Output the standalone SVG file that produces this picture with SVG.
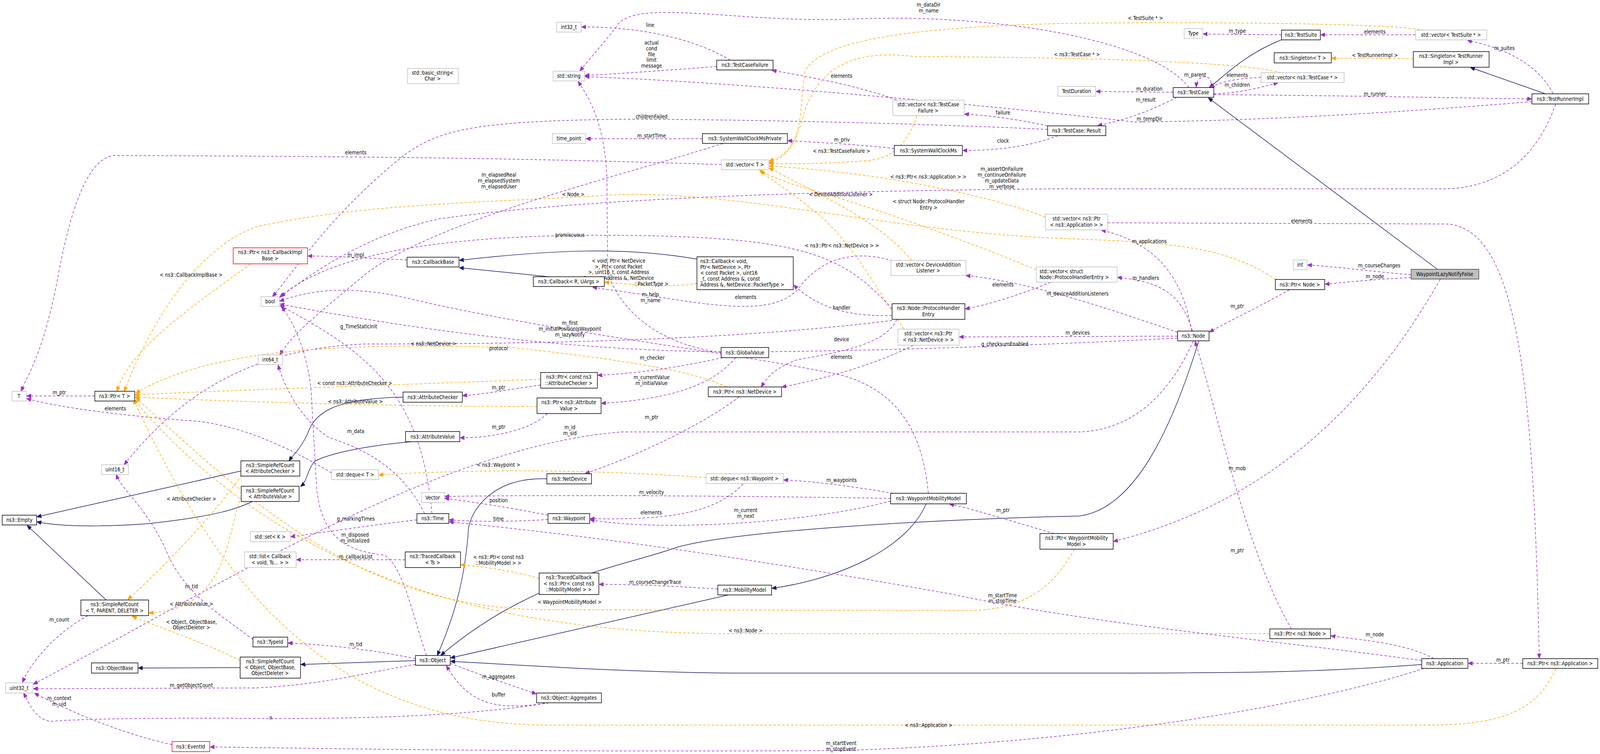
<svg xmlns="http://www.w3.org/2000/svg" width="4371" height="1929" viewBox="0 0 4371 1929" preserveAspectRatio="none">
<style>
:root{width:100vw;height:100vh}
text{font-family:"DejaVu Sans","Liberation Sans",sans-serif;font-stretch:condensed;font-size:14px;fill:#000}
.c{text-anchor:middle}
rect{fill:#fff;stroke-width:1.5}
.b{stroke:#000}
.g{stroke:#bfbfbf}
.r{stroke:#ff0000}
.s{fill:#bfbfbf;stroke:#404040}
path{fill:none;stroke-width:1.5}
.p{stroke:#9a32cd;stroke-dasharray:7,5;marker-end:url(#ap)}
.o{stroke:#ffa500;stroke-dasharray:7,5;marker-end:url(#ao)}
.n{stroke:#191970;marker-end:url(#an)}
</style>
<defs>
<marker id="ap" markerWidth="12" markerHeight="10" refX="11" refY="5" orient="auto" markerUnits="userSpaceOnUse"><path d="M0,0 L12,5 L0,10 Z" style="fill:#9a32cd;stroke:#9a32cd"/></marker>
<marker id="ao" markerWidth="12" markerHeight="10" refX="11" refY="5" orient="auto" markerUnits="userSpaceOnUse"><path d="M0,0 L12,5 L0,10 Z" style="fill:#ffa500;stroke:#ffa500"/></marker>
<marker id="an" markerWidth="12" markerHeight="10" refX="11" refY="5" orient="auto" markerUnits="userSpaceOnUse"><path d="M0,0 L12,5 L0,10 Z" style="fill:#191970;stroke:#191970"/></marker>
</defs>
<rect x="0" y="0" width="4371" height="1929" style="fill:#fff;stroke:none"/>
<g id="edges">
<path class="p" d="M1995,154 C1900,100 1750,68 1590,69"/>
<path class="p" d="M1958,170 C1850,178 1700,188 1599,193"/>
<path class="p" d="M3248,224 C3150,100 2700,30 2300,50 C2000,55 1750,0 1690,60 C1660,100 1610,150 1585,181"/>
<path class="p" d="M4185,260 C3800,290 3400,310 3100,312 C2600,260 2000,210 1599,196"/>
<path class="p" d="M3501,89 L3288,87"/>
<path class="p" d="M3867,89 L3609,89"/>
<path class="p" d="M4243,240 C4200,160 4100,120 4010,104"/>
<path class="o" d="M3861,150 L3639,149"/>
<path class="n" d="M4222,240 L4018,173"/>
<path class="n" d="M3500,102 C3400,140 3350,190 3305,223"/>
<path class="n" d="M3927,689 L3302,251"/>
<path class="p" d="M3445,198 C3380,200 3330,210 3307,224"/>
<path class="p" d="M3316,240 C3380,238 3430,228 3490,212"/>
<path class="p" d="M3306,224 C3320,190 3270,185 3268,222"/>
<path class="p" d="M3205,236 L2995,234"/>
<path class="p" d="M3215,249 C3130,290 3060,310 3000,321"/>
<path class="p" d="M3316,242 C3700,245 3950,250 4183,253"/>
<path class="p" d="M2862,322 C2780,305 2700,295 2636,292"/>
<path class="p" d="M2890,347 C2800,380 2700,385 2631,385"/>
<path class="p" d="M2862,331 C2500,315 2000,305 1700,305 C1300,310 1200,330 1100,400 C900,550 800,700 745,758"/>
<path class="p" d="M2450,256 C2350,220 2200,195 2110,180"/>
<path class="o" d="M2505,296 C2480,360 2450,400 2380,410 C2250,420 2150,420 2102,418"/>
<path class="p" d="M2443,380 C2350,370 2250,365 2153,360"/>
<path class="p" d="M1919,355 L1602,355"/>
<path class="p" d="M1975,367 C1700,450 1200,560 1000,700 C900,780 800,850 765,907"/>
<path class="p" d="M1971,421 C1600,410 1200,400 310,398 C250,405 200,500 160,700 C120,900 80,950 58,1000"/>
<path class="p" d="M4250,266 C4200,400 4100,480 3950,483 L2900,483 C2000,490 1500,520 1200,560 C1000,600 850,700 768,758"/>
<path class="o" d="M3890,77 C3800,60 3300,55 2900,60 C2500,70 2250,100 2200,180 C2180,300 2200,380 2102,412"/>
<path class="o" d="M3500,186 C3400,160 3000,146 2500,145 C2300,120 2230,200 2200,280 C2170,380 2150,400 2102,416"/>
<path class="o" d="M2856,555 C2700,500 2400,440 2102,425"/>
<path class="o" d="M2490,666 C2400,560 2200,480 2102,430"/>
<path class="o" d="M2830,690 C2600,600 2350,520 2160,470 C2120,455 2090,445 2075,436"/>
<path class="o" d="M2470,842 C2400,750 2350,650 2250,560 C2150,480 2100,460 2080,436"/>
<path class="p" d="M3026,570 L3950,573 C4150,580 4190,1000 4205,1683"/>
<path class="p" d="M3255,847 C3230,700 3150,620 3010,589"/>
<path class="p" d="M3258,847 C3230,760 3180,720 3054,710"/>
<path class="p" d="M3217,850 C3000,780 2800,720 2640,705"/>
<path class="p" d="M3217,860 L2622,862"/>
<path class="p" d="M3217,865 C2900,880 2400,900 2000,900 C1500,900 1000,820 766,778"/>
<path class="p" d="M3260,872 C3200,1000 3100,1100 2950,1105 L1700,1105 C1200,1140 600,1500 92,1750"/>
<path class="p" d="M2495,883 C2400,930 2250,970 2137,990"/>
<path class="p" d="M2450,817 C2420,880 2300,900 2180,920 C2120,940 2100,960 2080,989"/>
<path class="p" d="M2437,807 C2350,810 2250,800 2169,730"/>
<path class="p" d="M2437,820 C2000,870 1500,880 1000,880 C700,890 500,1000 340,1188"/>
<path class="p" d="M2437,790 C2300,650 2200,600 1600,602 C1200,605 900,650 765,760"/>
<path class="p" d="M2870,722 C2800,750 2700,780 2638,790"/>
<path class="p" d="M2450,670 C2350,640 2250,650 2180,740 C2120,800 2000,790 1800,760 C1700,745 1650,740 1620,735"/>
<path class="o" d="M1904,725 C1850,735 1750,730 1653,722"/>
<path class="n" d="M1904,663 C1700,630 1500,640 1256,666"/>
<path class="n" d="M1500,708 L1256,685"/>
<path class="p" d="M1112,665 C1000,660 900,655 842,655"/>
<path class="o" d="M685,675 C500,800 350,900 320,1000"/>
<path class="p" d="M259,1013 L74,1013"/>
<path class="p" d="M1970,902 C1800,880 1700,800 1660,700 L1658,450 C1650,300 1600,240 1580,209"/>
<path class="p" d="M1975,915 C1850,940 1750,955 1634,960"/>
<path class="p" d="M2010,915 C1950,980 1850,1020 1644,1032"/>
<path class="p" d="M1477,985 C1400,995 1330,1008 1265,1012"/>
<path class="o" d="M1477,970 C1100,985 700,995 370,1010"/>
<path class="p" d="M1495,1058 C1450,1100 1350,1120 1258,1120"/>
<path class="o" d="M1467,1040 C1100,1040 700,1030 370,1016"/>
<path class="n" d="M1101,1016 C900,1020 860,1060 840,1110 C820,1150 800,1165 790,1178"/>
<path class="n" d="M1125,1130 C1000,1140 900,1160 860,1180 C840,1200 840,1230 822,1244"/>
<path class="n" d="M658,1205 L102,1322"/>
<path class="n" d="M690,1283 C650,1300 600,1320 400,1340 C250,1350 150,1345 102,1335"/>
<path class="n" d="M290,1535 L75,1345"/>
<path class="o" d="M660,1215 C600,1300 450,1450 350,1533"/>
<path class="o" d="M660,1270 C620,1350 630,1560 408,1568"/>
<path class="o" d="M656,1690 C550,1640 420,1600 362,1577"/>
<path class="p" d="M240,1575 C150,1620 80,1700 62,1745"/>
<path class="p" d="M2020,1015 C1900,1100 1700,1180 1600,1211"/>
<path class="o" d="M1985,990 C1900,950 1700,920 1400,889 C1000,880 600,880 372,1005"/>
<path class="n" d="M1494,1225 C1350,1220 1290,1300 1280,1350 C1270,1500 1230,1600 1195,1676"/>
<path class="n" d="M3275,872 C3200,1100 3100,1300 2950,1320 C2500,1330 2000,1360 1850,1400 C1700,1450 1450,1480 1205,1676"/>
<path class="n" d="M1990,1522 L1232,1683"/>
<path class="n" d="M3884,1700 C3600,1720 3400,1722 3000,1722 L2000,1722 C1700,1720 1400,1700 1232,1692"/>
<path class="n" d="M2530,1289 C2480,1400 2300,1480 2110,1505"/>
<path class="n" d="M1135,1690 L823,1700"/>
<path class="n" d="M656,1708 L379,1709"/>
<path class="p" d="M1135,1685 C1000,1660 900,1650 788,1645"/>
<path class="p" d="M691,1636 C600,1570 500,1520 450,1400 C400,1300 330,1250 318,1215"/>
<path class="p" d="M1165,1677 C1120,1550 1100,1450 1050,1420 C950,1410 880,1380 865,1250 L850,1000 C840,900 800,820 770,786"/>
<path class="p" d="M1230,1697 C1350,1740 1420,1760 1464,1775"/>
<path class="p" d="M1500,1798 C1350,1820 1280,1800 1220,1704"/>
<path class="p" d="M1500,1798 C1300,1830 1000,1840 700,1838 C400,1836 200,1840 150,1845 C100,1850 80,1800 65,1774"/>
<path class="p" d="M1135,1700 C1000,1720 900,1750 700,1760 L92,1762"/>
<path class="p" d="M1107,1432 L811,1432"/>
<path class="o" d="M1473,1480 C1400,1460 1320,1450 1260,1445"/>
<path class="p" d="M1961,1507 C1850,1500 1750,1495 1638,1495"/>
<path class="p" d="M1139,1330 C1000,1345 900,1360 795,1373"/>
<path class="p" d="M1160,1314 C1100,1200 1000,1150 900,1120 C830,1080 780,1000 760,935"/>
<path class="p" d="M1180,1314 C1150,1000 1000,900 766,782"/>
<path class="p" d="M1497,1329 C1400,1335 1300,1335 1228,1330"/>
<path class="p" d="M1497,1318 C1400,1300 1300,1285 1216,1275"/>
<path class="p" d="M2440,1262 C2300,1240 2200,1230 2142,1228"/>
<path class="p" d="M2433,1275 C2100,1270 1600,1265 1216,1270"/>
<path class="p" d="M2433,1282 C2200,1340 1800,1360 1613,1330"/>
<path class="p" d="M2030,1238 C1950,1320 1800,1330 1613,1327"/>
<path class="o" d="M1929,1222 C1600,1200 1300,1200 1036,1215"/>
<path class="p" d="M906,1210 C800,1150 650,1080 500,1075 C300,1060 150,1040 74,1020"/>
<path class="p" d="M2536,1262 C2520,1100 2450,1000 2300,960 C2000,900 1500,850 1100,760 C900,720 800,760 765,770"/>
<path class="p" d="M2880,1365 C2750,1330 2650,1300 2595,1290"/>
<path class="o" d="M2935,1405 C2880,1500 2800,1560 2650,1562 L1500,1560 C1000,1560 700,1300 372,1018"/>
<path class="p" d="M3935,714 C3700,1100 3400,1300 3043,1385"/>
<path class="p" d="M3855,703 C3750,695 3650,682 3573,678"/>
<path class="p" d="M3855,710 C3750,715 3700,720 3621,727"/>
<path class="p" d="M3523,741 C3450,780 3360,820 3305,849"/>
<path class="o" d="M3485,715 C3350,630 3200,620 2900,610 C2400,590 2000,480 1650,500 C1300,520 1000,520 700,580 C500,650 380,900 340,1000"/>
<path class="p" d="M3528,1609 C3400,1400 3340,1100 3265,874"/>
<path class="o" d="M3469,1621 L2000,1621 C1400,1621 800,1500 365,1022"/>
<path class="p" d="M3917,1685 C3850,1650 3750,1640 3637,1627"/>
<path class="p" d="M3884,1690 C3500,1640 3000,1600 2600,1520 C2000,1420 1600,1370 1228,1335"/>
<path class="p" d="M3890,1710 C3600,1800 3000,1900 2300,1920 C1500,1925 900,1915 575,1911"/>
<path class="p" d="M4160,1697 L4012,1697"/>
<path class="o" d="M4250,1710 C4200,1820 4100,1855 3900,1855 L1500,1855 C900,1855 600,1500 365,1023"/>
<path class="p" d="M470,1905 C300,1870 150,1800 95,1774"/>
</g>
<g id="labels" class="c">
<text class="c" x="1776" y="69">line</text>
<text class="c" x="1780" y="114">actual</text><text class="c" x="1780" y="129">cond</text><text class="c" x="1780" y="144">file</text><text class="c" x="1780" y="158">limit</text><text class="c" x="1780" y="173">message</text>
<text class="c" x="2537" y="17">m_dataDir</text><text class="c" x="2537" y="32">m_name</text>
<text class="c" x="3129" y="51">&lt; TestSuite * &gt;</text>
<text class="c" x="2942" y="144">&lt; ns3::TestCase * &gt;</text>
<text class="c" x="2299" y="199">elements</text>
<text class="c" x="3265" y="196">m_parent</text>
<text class="c" x="3140" y="232">m_duration</text>
<text class="c" x="3130" y="260">m_result</text>
<text class="c" x="2740" y="293">failure</text>
<text class="c" x="3140" y="309">m_tempDir</text>
<text class="c" x="2300" y="362">m_priv</text>
<text class="c" x="2740" y="365">clock</text>
<text class="c" x="2299" y="391">&lt; ns3::TestCaseFailure &gt;</text>
<text class="c" x="2737" y="437">m_assertOnFailure</text><text class="c" x="2737" y="452">m_continueOnFailure</text><text class="c" x="2737" y="467">m_updateData</text><text class="c" x="2737" y="482">m_verbose</text>
<text class="c" x="2536" y="457">&lt; ns3::Ptr&lt; ns3::Application &gt; &gt;</text>
<text class="c" x="2297" y="502">&lt; DeviceAdditionListener &gt;</text>
<text class="c" x="2537" y="520">&lt; struct Node::ProtocolHandler</text><text class="c" x="2537" y="536">Entry &gt;</text>
<text class="c" x="3140" y="622">m_applications</text>
<text class="c" x="2300" y="633">&lt; ns3::Ptr&lt; ns3::NetDevice &gt; &gt;</text>
<text class="c" x="3380" y="84">m_type</text>
<text class="c" x="3756" y="86">elements</text>
<text class="c" x="4110" y="128">m_suites</text>
<text class="c" x="3756" y="146">&lt; TestRunnerImpl &gt;</text>
<text class="c" x="3380" y="197">elements</text>
<text class="c" x="3380" y="222">m_children</text>
<text class="c" x="3756" y="245">m_runner</text>
<text class="c" x="3556" y="570">elements</text>
<text class="c" x="1780" y="303">childrenFailed</text>
<text class="c" x="1780" y="352">m_startTime</text>
<text class="c" x="1363" y="452">m_elapsedReal</text><text class="c" x="1363" y="467">m_elapsedSystem</text><text class="c" x="1363" y="482">m_elapsedUser</text>
<text class="c" x="972" y="395">elements</text>
<text class="c" x="1566" y="502">&lt; Node &gt;</text>
<text class="c" x="1557" y="606">promiscuous</text>
<text class="c" x="972" y="657">m_impl</text>
<text class="c" x="522" y="708">&lt; ns3::CallbackImplBase &gt;</text>
<text x="1690" y="672">&lt; void, Ptr&lt; NetDevice</text><text x="1690" y="687">&gt;, Ptr&lt; const Packet</text><text x="1690" y="701">&gt;, uint16_t, const Address</text><text x="1690" y="716">&amp;, const Address &amp;, NetDevice</text><text class="c" x="1780" y="731">::PacketType &gt;</text>
<text class="c" x="1777" y="758">m_help</text><text class="c" x="1777" y="773">m_name</text>
<text class="c" x="2037" y="765">elements</text>
<text class="c" x="2740" y="733">elements</text>
<text class="c" x="3130" y="716">m_handlers</text>
<text class="c" x="2944" y="756">m_deviceAdditionListeners</text>
<text class="c" x="2299" y="792">handler</text>
<text class="c" x="2944" y="856">m_devices</text>
<text class="c" x="2299" y="873">device</text>
<text class="c" x="2745" y="885">g_checksumEnabled</text>
<text class="c" x="2299" y="918">elements</text>
<text class="c" x="1557" y="831">m_first</text><text class="c" x="1557" y="846">m_initialPositionIsWaypoint</text><text class="c" x="1557" y="861">m_lazyNotify</text>
<text class="c" x="980" y="840">g_TimeStaticInit</text>
<text class="c" x="1184" y="884">&lt; ns3::NetDevice &gt;</text>
<text class="c" x="1362" y="896">protocol</text>
<text class="c" x="1782" y="920">m_checker</text>
<text class="c" x="1780" y="970">m_currentValue</text><text class="c" x="1780" y="985">m_initialValue</text>
<text class="c" x="969" y="985">&lt; const ns3::AttributeChecker &gt;</text>
<text class="c" x="1362" y="996">m_ptr</text>
<text class="c" x="162" y="1009">m_ptr</text>
<text class="c" x="971" y="1032">&lt; ns3::AttributeValue &gt;</text>
<text class="c" x="315" y="1050">elements</text>
<text class="c" x="1780" y="1072">m_ptr</text>
<text class="c" x="1362" y="1097">m_ptr</text>
<text class="c" x="1557" y="1098">m_id</text><text class="c" x="1557" y="1113">m_sid</text>
<text class="c" x="972" y="1108">m_data</text>
<text class="c" x="1362" y="1194">&lt; ns3::Waypoint &gt;</text>
<text class="c" x="3380" y="788">m_ptr</text>
<text class="c" x="3768" y="684">m_courseChanges</text>
<text class="c" x="3756" y="712">m_node</text>
<text class="c" x="3380" y="1203">m_mob</text>
<text class="c" x="523" y="1281">&lt; AttributeChecker &gt;</text>
<text class="c" x="2299" y="1233">m_waypoints</text>
<text class="c" x="1780" y="1264">m_velocity</text>
<text class="c" x="1362" y="1285">position</text>
<text class="c" x="1779" y="1316">elements</text>
<text class="c" x="2037" y="1310">m_current</text><text class="c" x="2037" y="1325">m_next</text>
<text class="c" x="1362" y="1332">time</text>
<text class="c" x="2740" y="1310">m_ptr</text>
<text class="c" x="972" y="1332">g_markingTimes</text>
<text class="c" x="970" y="1373">m_disposed</text><text class="c" x="970" y="1388">m_initialized</text>
<text class="c" x="972" y="1429">m_callbackList</text>
<text class="c" x="3380" y="1413">m_ptr</text>
<text class="c" x="1362" y="1430">&lt; ns3::Ptr&lt; const ns3</text><text class="c" x="1362" y="1445">::MobilityModel &gt; &gt;</text>
<text class="c" x="1790" y="1494">m_courseChangeTrace</text>
<text class="c" x="523" y="1505">m_tid</text>
<text class="c" x="2739" y="1528">m_startTime</text><text class="c" x="2739" y="1542">m_stopTime</text>
<text class="c" x="1556" y="1545">&lt; WaypointMobilityModel &gt;</text>
<text class="c" x="523" y="1550">&lt; AttributeValue &gt;</text>
<text class="c" x="162" y="1590">m_count</text>
<text class="c" x="523" y="1596">&lt; Object, ObjectBase,</text><text class="c" x="523" y="1610">ObjectDeleter &gt;</text>
<text class="c" x="2037" y="1618">&lt; ns3::Node &gt;</text>
<text class="c" x="3756" y="1628">m_node</text>
<text class="c" x="972" y="1653">m_tid</text>
<text class="c" x="4106" y="1693">m_ptr</text>
<text class="c" x="1362" y="1736">m_aggregates</text>
<text class="c" x="523" y="1758">m_getObjectCount</text>
<text class="c" x="1362" y="1782">buffer</text>
<text class="c" x="162" y="1791">m_context</text><text class="c" x="162" y="1806">m_uid</text>
<text class="c" x="740" y="1841">n</text>
<text class="c" x="2537" y="1860">&lt; ns3::Application &gt;</text>
<text class="c" x="2298" y="1906">m_startEvent</text><text class="c" x="2298" y="1921">m_stopEvent</text>
</g>
<g id="n_TestSuite"><rect class="b" x="3501" y="77" width="106" height="25"/><text class="c" x="3554" y="94">ns3::TestSuite</text></g>
<g id="n_Type"><rect class="g" x="3235" y="73" width="51" height="25"/><text class="c" x="3260" y="90">Type</text></g>
<g id="n_int32"><rect class="g" x="1521" y="57" width="67" height="25"/><text class="c" x="1554" y="74">int32_t</text></g>
<g id="n_basicstring"><rect class="g" x="1113" y="175" width="139" height="39"/><text class="c" x="1182" y="191">std::basic_string&lt;</text><text class="c" x="1182" y="206">Char &gt;</text></g>
<g id="n_string"><rect class="g" x="1511" y="182" width="86" height="25"/><text class="c" x="1554" y="199">std::string</text></g>
<g id="n_TestCaseFailure"><rect class="b" x="1958" y="154" width="154" height="25"/><text class="c" x="2035" y="171">ns3::TestCaseFailure</text></g>
<g id="n_TestCase"><rect class="b" x="3205" y="224" width="111" height="25"/><text class="c" x="3260" y="241">ns3::TestCase</text></g>
<g id="n_TestDuration"><rect class="g" x="2890" y="221" width="103" height="25"/><text class="c" x="2941" y="238">TestDuration</text></g>
<g id="n_vecTestCase"><rect class="g" x="3445" y="186" width="227" height="25"/><text class="c" x="3558" y="203">std::vector&lt; ns3::TestCase * &gt;</text></g>
<g id="n_vecTestSuite"><rect class="g" x="3867" y="77" width="195" height="25"/><text class="c" x="3964" y="94">std::vector&lt; TestSuite * &gt;</text></g>
<g id="n_SingletonT"><rect class="b" x="3481" y="135" width="156" height="26"/><text class="c" x="3559" y="153">ns3::Singleton&lt; T &gt;</text></g>
<g id="n_SingletonTRI"><rect class="b" x="3861" y="132" width="207" height="40"/><text class="c" x="3964" y="148">ns3::Singleton&lt; TestRunner</text><text class="c" x="3964" y="164">Impl &gt;</text></g>
<g id="n_TestRunnerImpl"><rect class="b" x="4185" y="240" width="155" height="26"/><text class="c" x="4262" y="258">ns3::TestRunnerImpl</text></g>
<g id="n_vecTCF"><rect class="g" x="2439" y="256" width="195" height="40"/><text class="c" x="2536" y="272">std::vector&lt; ns3::TestCase</text><text class="c" x="2536" y="288">Failure &gt;</text></g>
<g id="n_Result"><rect class="b" x="2862" y="322" width="159" height="25"/><text class="c" x="2941" y="339">ns3::TestCase::Result</text></g>
<g id="n_time_point"><rect class="g" x="1509" y="342" width="91" height="25"/><text class="c" x="1554" y="359">time_point</text></g>
<g id="n_SWCMPrivate"><rect class="b" x="1919" y="342" width="232" height="25"/><text class="c" x="2035" y="359">ns3::SystemWallClockMsPrivate</text></g>
<g id="n_SWCM"><rect class="b" x="2443" y="372" width="186" height="26"/><text class="c" x="2536" y="390">ns3::SystemWallClockMs</text></g>
<g id="n_vecT"><rect class="g" x="1971" y="409" width="129" height="25"/><text class="c" x="2035" y="426">std::vector&lt; T &gt;</text></g>
<g id="n_vecPtrApp"><rect class="g" x="2856" y="548" width="170" height="40"/><text class="c" x="2941" y="564">std::vector&lt; ns3::Ptr</text><text class="c" x="2941" y="580">&lt; ns3::Application &gt; &gt;</text></g>
<g id="n_PtrCallbackImpl"><rect class="r" x="637" y="634" width="203" height="41"/><text class="c" x="738" y="650">ns3::Ptr&lt; ns3::CallbackImpl</text><text class="c" x="738" y="666">Base &gt;</text></g>
<g id="n_CallbackBase"><rect class="b" x="1112" y="658" width="142" height="25"/><text class="c" x="1183" y="675">ns3::CallbackBase</text></g>
<g id="n_CallbackRU"><rect class="b" x="1457" y="708" width="194" height="25"/><text class="c" x="1554" y="725">ns3::Callback&lt; R, UArgs &gt;</text></g>
<g id="n_CallbackVoid"><rect class="b" x="1904" y="657" width="263" height="84"/><text x="1913" y="673">ns3::Callback&lt; void,</text><text x="1913" y="688"> Ptr&lt; NetDevice &gt;, Ptr</text><text x="1913" y="703">&lt; const Packet &gt;, uint16</text><text x="1913" y="718">_t, const Address &amp;, const</text><text x="1913" y="733"> Address &amp;, NetDevice::PacketType &gt;</text></g>
<g id="n_vecDAL"><rect class="g" x="2434" y="666" width="205" height="39"/><text class="c" x="2536" y="682">std::vector&lt; DeviceAddition</text><text class="c" x="2536" y="697">Listener &gt;</text></g>
<g id="n_vecPHE"><rect class="g" x="2831" y="683" width="221" height="39"/><text x="2840" y="699">std::vector&lt; struct</text><text x="2840" y="714"> Node::ProtocolHandlerEntry &gt;</text></g>
<g id="n_int"><rect class="g" x="3533" y="665" width="38" height="25"/><text class="c" x="3552" y="682">int</text></g>
<g id="n_WLNF"><rect class="s" x="3855" y="689" width="185" height="25"/><text class="c" x="3947" y="706">WaypointLazyNotifyFalse</text></g>
<g id="n_PtrNode"><rect class="b" x="3484" y="715" width="135" height="26"/><text class="c" x="3551" y="733">ns3::Ptr&lt; Node &gt;</text></g>
<g id="n_bool"><rect class="g" x="713" y="759" width="50" height="25"/><text class="c" x="738" y="776">bool</text></g>
<g id="n_PHE"><rect class="b" x="2437" y="777" width="199" height="40"/><text class="c" x="2536" y="793">ns3::Node::ProtocolHandler</text><text class="c" x="2536" y="809">Entry</text></g>
<g id="n_vecPtrND"><rect class="g" x="2453" y="842" width="167" height="41"/><text class="c" x="2536" y="858">std::vector&lt; ns3::Ptr</text><text class="c" x="2536" y="874">&lt; ns3::NetDevice &gt; &gt;</text></g>
<g id="n_Node"><rect class="b" x="3217" y="847" width="86" height="25"/><text class="c" x="3260" y="864">ns3::Node</text></g>
<g id="n_GlobalValue"><rect class="b" x="1970" y="889" width="130" height="26"/><text class="c" x="2035" y="907">ns3::GlobalValue</text></g>
<g id="n_int64"><rect class="g" x="705" y="908" width="67" height="25"/><text class="c" x="738" y="925">int64_t</text></g>
<g id="n_PtrCAC"><rect class="b" x="1477" y="953" width="155" height="40"/><text class="c" x="1554" y="969">ns3::Ptr&lt; const ns3</text><text class="c" x="1554" y="985">::AttributeChecker &gt;</text></g>
<g id="n_PtrND"><rect class="b" x="1935" y="990" width="200" height="25"/><text class="c" x="2035" y="1007">ns3::Ptr&lt; ns3::NetDevice &gt;</text></g>
<g id="n_T"><rect class="g" x="33" y="1001" width="39" height="25"/><text class="c" x="52" y="1018">T</text></g>
<g id="n_PtrT"><rect class="b" x="259" y="1001" width="109" height="25"/><text class="c" x="313" y="1018">ns3::Ptr&lt; T &gt;</text></g>
<g id="n_AttributeChecker"><rect class="b" x="1101" y="1003" width="162" height="26"/><text class="c" x="1182" y="1021">ns3::AttributeChecker</text></g>
<g id="n_PtrAV"><rect class="b" x="1467" y="1018" width="175" height="40"/><text class="c" x="1554" y="1034">ns3::Ptr&lt; ns3::Attribute</text><text class="c" x="1554" y="1050">Value &gt;</text></g>
<g id="n_AttributeValue"><rect class="b" x="1108" y="1104" width="148" height="26"/><text class="c" x="1182" y="1122">ns3::AttributeValue</text></g>
<g id="n_SRCAC"><rect class="b" x="658" y="1179" width="161" height="39"/><text class="c" x="738" y="1195">ns3::SimpleRefCount</text><text class="c" x="738" y="1210">&lt; AttributeChecker &gt;</text></g>
<g id="n_uint16"><rect class="g" x="277" y="1189" width="74" height="25"/><text class="c" x="314" y="1206">uint16_t</text></g>
<g id="n_dequeT"><rect class="g" x="906" y="1202" width="128" height="25"/><text class="c" x="970" y="1219">std::deque&lt; T &gt;</text></g>
<g id="n_NetDevice"><rect class="b" x="1494" y="1212" width="122" height="26"/><text class="c" x="1555" y="1230">ns3::NetDevice</text></g>
<g id="n_dequeWP"><rect class="g" x="1929" y="1212" width="211" height="25"/><text class="c" x="2034" y="1229">std::deque&lt; ns3::Waypoint &gt;</text></g>
<g id="n_SRCAV"><rect class="b" x="659" y="1244" width="158" height="39"/><text class="c" x="738" y="1260">ns3::SimpleRefCount</text><text class="c" x="738" y="1275">&lt; AttributeValue &gt;</text></g>
<g id="n_Vector"><rect class="g" x="1151" y="1260" width="63" height="26"/><text class="c" x="1182" y="1278">Vector</text></g>
<g id="n_WMM"><rect class="b" x="2433" y="1262" width="207" height="27"/><text class="c" x="2536" y="1280">ns3::WaypointMobilityModel</text></g>
<g id="n_Time"><rect class="b" x="1139" y="1314" width="87" height="25"/><text class="c" x="1182" y="1331">ns3::Time</text></g>
<g id="n_Empty"><rect class="b" x="6" y="1318" width="94" height="25"/><text class="c" x="53" y="1335">ns3::Empty</text></g>
<g id="n_Waypoint"><rect class="b" x="1497" y="1314" width="114" height="25"/><text class="c" x="1554" y="1331">ns3::Waypoint</text></g>
<g id="n_setK"><rect class="g" x="684" y="1360" width="109" height="26"/><text class="c" x="738" y="1378">std::set&lt; K &gt;</text></g>
<g id="n_PtrWMM"><rect class="b" x="2841" y="1365" width="200" height="40"/><text class="c" x="2941" y="1381">ns3::Ptr&lt; WaypointMobility</text><text class="c" x="2941" y="1397">Model &gt;</text></g>
<g id="n_listCB"><rect class="g" x="668" y="1412" width="141" height="40"/><text class="c" x="738" y="1428">std::list&lt; Callback</text><text class="c" x="738" y="1444">&lt; void, Ts... &gt; &gt;</text></g>
<g id="n_TCTs"><rect class="b" x="1107" y="1412" width="151" height="40"/><text class="c" x="1182" y="1428">ns3::TracedCallback</text><text class="c" x="1182" y="1444">&lt; Ts &gt;</text></g>
<g id="n_TCMM"><rect class="b" x="1473" y="1466" width="163" height="55"/><text class="c" x="1554" y="1482">ns3::TracedCallback</text><text class="c" x="1554" y="1498">&lt; ns3::Ptr&lt; const ns3</text><text class="c" x="1554" y="1513">::MobilityModel &gt; &gt;</text></g>
<g id="n_MM"><rect class="b" x="1961" y="1497" width="147" height="25"/><text class="c" x="2034" y="1514">ns3::MobilityModel</text></g>
<g id="n_SRCTPD"><rect class="b" x="221" y="1535" width="185" height="40"/><text class="c" x="313" y="1551">ns3::SimpleRefCount</text><text class="c" x="313" y="1567">&lt; T, PARENT, DELETER &gt;</text></g>
<g id="n_PtrNsNode"><rect class="b" x="3469" y="1609" width="166" height="25"/><text class="c" x="3552" y="1626">ns3::Ptr&lt; ns3::Node &gt;</text></g>
<g id="n_TypeId"><rect class="b" x="691" y="1630" width="95" height="25"/><text class="c" x="738" y="1647">ns3::TypeId</text></g>
<g id="n_Object"><rect class="b" x="1135" y="1677" width="95" height="25"/><text class="c" x="1182" y="1694">ns3::Object</text></g>
<g id="n_SRCObj"><rect class="b" x="656" y="1681" width="165" height="54"/><text class="c" x="738" y="1697">ns3::SimpleRefCount</text><text class="c" x="738" y="1712">&lt; Object, ObjectBase,</text><text class="c" x="738" y="1727">ObjectDeleter &gt;</text></g>
<g id="n_Application"><rect class="b" x="3884" y="1685" width="126" height="25"/><text class="c" x="3947" y="1702">ns3::Application</text></g>
<g id="n_PtrApp"><rect class="b" x="4160" y="1685" width="205" height="25"/><text class="c" x="4262" y="1702">ns3::Ptr&lt; ns3::Application &gt;</text></g>
<g id="n_ObjectBase"><rect class="b" x="250" y="1696" width="127" height="26"/><text class="c" x="313" y="1714">ns3::ObjectBase</text></g>
<g id="n_uint32"><rect class="g" x="15" y="1747" width="75" height="26"/><text class="c" x="52" y="1765">uint32_t</text></g>
<g id="n_Aggregates"><rect class="b" x="1466" y="1773" width="177" height="25"/><text class="c" x="1554" y="1790">ns3::Object::Aggregates</text></g>
<g id="n_EventId"><rect class="r" x="470" y="1897" width="103" height="26"/><text class="c" x="521" y="1915">ns3::EventId</text></g>
</svg>
